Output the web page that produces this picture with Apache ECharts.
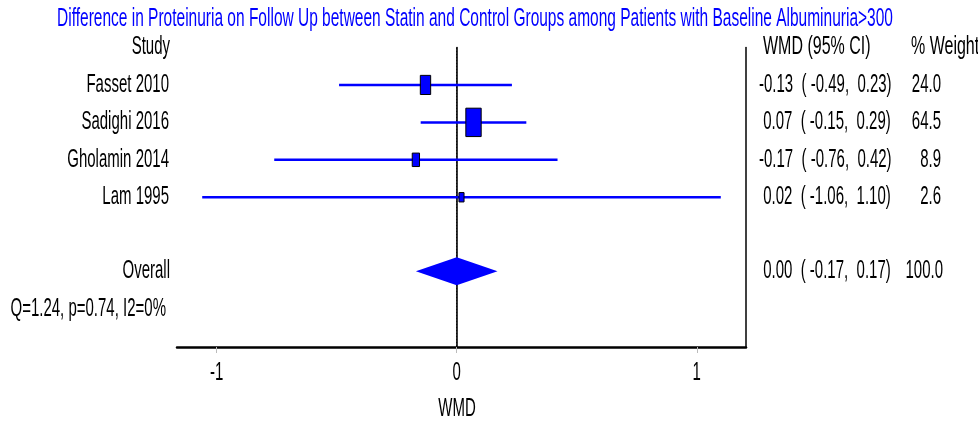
<!DOCTYPE html>
<html>
<head>
<meta charset="utf-8">
<script src="https://cdn.jsdelivr.net/npm/echarts@6/dist/echarts.min.js"></script>
<style>
  html, body { margin: 0; background: #fff; }
  #main { width: 978px; height: 425px; }
</style>
</head>
<body>
<div id="main"></div>
<script>
  // study rows
  const studies = ['Fasset 2010', 'Sadighi 2016', 'Gholamin 2014', 'Lam 1995'];
  const estimates = [-0.13, 0.07, -0.17, 0.02];
  const lowerCI = [-0.49, -0.15, -0.76, -1.06];
  const upperCI = [0.23, 0.29, 0.42, 1.10];
  const weights = [24.0, 64.5, 8.9, 2.6];
  // pooled result: estimate, lower, upper
  const overall = [0.00, -0.17, 0.17];
  const heterogeneity = 'Q=1.24, p=0.74, I2=0%';
  const xTicks = [-1, 0, 1];
  const titleText = 'Difference in Proteinuria on Follow Up between Statin and Control Groups among Patients with Baseline Albuminuria>300';

  const BLUE = '#0000ff';
  const FONT = '"Liberation Sans", Arial, sans-serif';
  const FS = 25;
  const SX = 0.6;

  function pad5(v) {
    var s = v.toFixed(2);
    return s.length < 5 ? ' ' + s : s;
  }
  function ciText(est, lo, hi) {
    return pad5(est) + '  ( ' + pad5(lo) + ',  ' + hi.toFixed(2) + ')';
  }
  // narrow text, like the stata output
  function txt(str, x, y, align, color, sx) {
    return {
      type: 'text', x: x, y: y, scaleX: sx || SX,
      style: { text: str, x: 0, y: 0, align: align, verticalAlign: 'middle',
               fontSize: FS, fontFamily: FONT, fill: color || '#000' }
    };
  }

  var chart = echarts.init(document.getElementById('main'));

  var studyData = studies.map((s, i) => [estimates[i], i + 1, lowerCI[i], upperCI[i], weights[i]]);
  var totalWeight = weights.reduce((a, b) => a + b, 0);

  chart.setOption({
    animation: false,
    grid: { left: 177, right: 232, top: 47.5, bottom: 78 },
    xAxis: {
      type: 'value', min: -1.165, max: 1.205,
      splitLine: { show: false },
      axisLine: { onZero: false, lineStyle: { color: '#000', width: 2.5 } },
      axisTick: { customValues: xTicks, length: 6, lineStyle: { color: '#bbb' } },
      axisLabel: { show: false }
    },
    yAxis: [
      { type: 'value', min: 0, max: 8, inverse: true, position: 'left',
        axisLine: { show: true, lineStyle: { color: '#000', width: 1.5 } },
        axisTick: { show: false }, axisLabel: { show: false }, splitLine: { show: false } },
      { type: 'value', min: 0, max: 8, inverse: true, position: 'right',
        axisLine: { show: true, lineStyle: { color: '#000', width: 1.5 } },
        axisTick: { show: false }, axisLabel: { show: false }, splitLine: { show: false } }
    ],
    graphic: [
      { type: 'text', x: 475, y: 19, scaleX: 0.62,
        style: { text: titleText, align: 'center', verticalAlign: 'middle',
                 fontSize: FS, fontFamily: FONT, fill: BLUE } },
      { type: 'text', x: 457, y: 409, scaleX: SX,
        style: { text: 'WMD', align: 'center', verticalAlign: 'middle',
                 fontSize: FS, fontFamily: FONT, fill: '#000' } }
    ],
    series: [
      {
        // no-effect line
        type: 'line', data: [[0, 0], [0, 8]], symbol: 'none', z: 1,
        lineStyle: { color: '#000', width: 1, type: [2, 1] }
      },
      {
        // tick labels under the axis
        type: 'custom', data: xTicks.map(v => [v, 8]), z: 3,
        encode: { x: 0, y: 1 },
        renderItem: function (params, api) {
          var p = api.coord([api.value(0), api.value(1)]);
          return txt(String(api.value(0)), p[0], p[1] + 26, 'center');
        }
      },
      {
        type: 'custom', data: studyData, z: 3,
        encode: { x: [0, 2, 3], y: 1 },
        renderItem: function (params, api) {
          var row = api.value(1);
          var c = api.coord([api.value(0), row]);
          var l = api.coord([api.value(2), row]);
          var r = api.coord([api.value(3), row]);
          var w = api.value(4);
          var bw = 1.6 * Math.sqrt(w) + 2.5, bh = bw * 1.85;
          var i = params.dataIndex;
          return {
            type: 'group', children: [
              { type: 'line', shape: { x1: l[0], y1: l[1], x2: r[0], y2: r[1] },
                style: { stroke: BLUE, lineWidth: 2.5 } },
              { type: 'rect', shape: { x: c[0] - bw / 2, y: c[1] - bh / 2, width: bw, height: bh },
                style: { fill: BLUE, stroke: '#000', lineWidth: 1 } },
              txt(studies[i], 169, c[1], 'right'),
              txt(ciText(api.value(0), api.value(2), api.value(3)), 759, c[1], 'left'),
              txt(weights[i].toFixed(1), 941, c[1], 'right')
            ]
          };
        }
      },
      {
        type: 'custom', data: [[overall[0], 6, overall[1], overall[2]]], z: 3,
        encode: { x: [0, 2, 3], y: 1 },
        renderItem: function (params, api) {
          var row = api.value(1);
          var c = api.coord([api.value(0), row]);
          var l = api.coord([api.value(2), row]);
          var r = api.coord([api.value(3), row]);
          var head = api.coord([0, 0]);
          var foot = api.coord([0, 7]);
          return {
            type: 'group', children: [
              { type: 'polygon',
                shape: { points: [[l[0], c[1] - 1], [c[0], c[1] - 15], [r[0], c[1] - 1], [c[0], c[1] + 13]] },
                style: { fill: BLUE } },
              txt('Overall', 170, c[1] - 1, 'right'),
              txt(ciText(api.value(0), api.value(2), api.value(3)), 759, c[1] - 1, 'left'),
              txt(totalWeight.toFixed(1), 943, c[1] - 1, 'right'),
              txt('Study', 170, head[1], 'right'),
              txt('WMD (95% CI)', 763, head[1], 'left', null, 0.64),
              txt('% Weight', 911, head[1], 'left', null, 0.64),
              txt(heterogeneity, 166, foot[1], 'right')
            ]
          };
        }
      }
    ]
  });
</script>
</body>
</html>
